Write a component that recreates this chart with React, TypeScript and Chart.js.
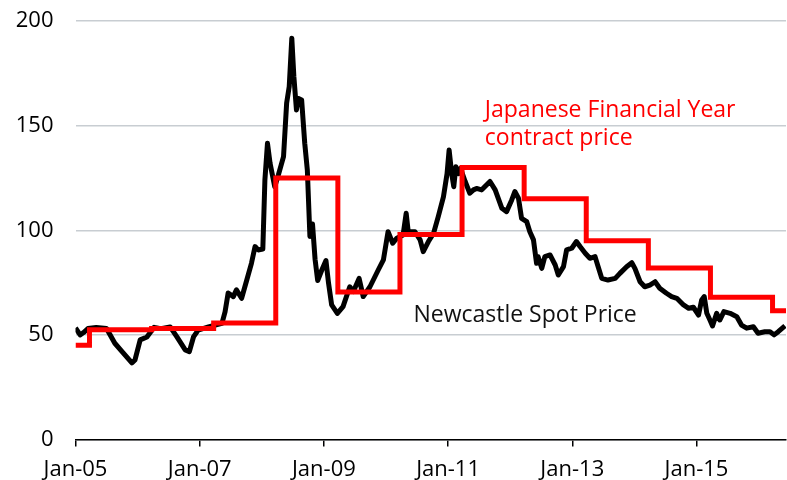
import React, { useEffect, useRef } from "react";
import { Chart, registerables } from "chart.js";

Chart.register(...registerables);

// Months since Jan-2005
const spotMonths = [
  0, 0.9, 1.5, 2.4, 4, 6, 7.6, 9, 10.9, 11.5, 12.5, 13.8, 15.2, 16.5, 18.3, 19.6, 21.2, 22, 22.8, 23.7,
  25.7, 28.3, 28.9, 29.5, 30.5, 31.1, 32.1, 33.1, 34, 34.7, 35.3, 36.2, 36.6, 37.1, 37.6, 38.5, 39.2,
  40.2, 40.8, 41.3, 41.8, 42.2, 42.7, 43.1, 43.7, 44.3, 44.8, 45.3, 45.8, 46.3, 46.8, 47.6, 48.4, 48.9,
  49.5, 50.6, 51.7, 53, 53.7, 54.8, 55.6, 56.9, 58.5, 59.5, 60.4, 61.3, 62.1, 63.3, 63.9, 64.3, 65.6,
  66.6, 67.2, 68.2, 69.2, 70.1, 71.1, 71.8, 72.2, 72.7, 73.1, 73.5, 74, 74.4, 75.3, 76.2, 76.9, 77.5,
  78.5, 80.1, 81.1, 82.4, 83.3, 84.3, 84.9, 85.6, 86.2, 87.2, 87.8, 88.5, 89.1, 89.4, 90.1, 90.7, 91.7,
  92.7, 93.3, 94.3, 94.9, 95.9, 96.8, 97.5, 98.5, 99.4, 100.4, 101, 101.7, 102.9, 104.3, 105.2, 106.5,
  107.5, 108.1, 109.1, 110, 111, 112, 112.9, 114.2, 115.2, 116.2, 117.5, 118.5, 119.4, 120.4, 121,
  121.5, 122, 122.6, 123.1, 123.9, 124.5, 125.3, 126.5, 127.8, 128.7, 129.7, 131, 131.9, 133.2, 134.2,
  135, 135.8, 137.1,
];
const spotPrices = [
  53.3, 50, 51, 53, 53.5, 53, 46, 42, 36.6, 38, 47.6, 49, 53.6, 53, 53.8, 49, 42.8, 42, 49, 52.3,
  53.8, 55.5, 61, 70, 68.3, 71.5, 67.5, 76.2, 84.2, 92.2, 90.6, 91, 124, 141.6, 132, 120.8, 126.4,
  135.2, 160.7, 168.6, 191.8, 173.4, 157.5, 163, 162.3, 141.6, 128.8, 97, 103, 86, 76, 81, 85.5, 74.7,
  64.3, 60.3, 63.5, 73, 70.7, 77, 68.3, 73, 81, 85.8, 99.3, 93.8, 96.2, 97.7, 108.1, 99.3, 99.3,
  95.4, 89.8, 94.6, 98.6, 106.5, 116, 127, 138.4, 127, 120.8, 130.4, 127, 129.6, 123.3, 117.7, 119.3, 120,
  119.3, 123.3, 119.3, 110.5, 108.9, 114.5, 118.5, 115.3, 105.7, 104.1, 99.3, 95.4, 84.2, 87.4, 81.8, 87.4, 88.2,
  83.4, 78.6, 82.6, 90.6, 91.4, 94.6, 92.2, 89, 86.6, 87.4, 82.6, 77, 76.2, 77, 79.4, 82.6,
  84.5, 81.8, 75.4, 73, 73.8, 75.4, 72.3, 69.9, 68.3, 67.5, 64.3, 62.7, 63.2, 59.5, 66.7,
  68.3, 60.3, 57.1, 54.3, 60.3, 57.1, 61.1, 60.3, 58.7, 54.7, 53.2, 53.9, 50.8, 51.5, 51.5,
  50, 51.5, 54.3,
];

// Japanese financial year contract price (each value holds until next change)
const contractMonths = [0, 2.7, 14.7, 26.7, 38.7, 50.7, 62.7, 74.7, 86.7, 98.7, 110.7, 122.7, 134.7, 137.3];
const contractPrices = [45, 52.5, 53, 55.7, 125, 70.5, 98, 130, 115, 95, 82, 68, 61.5, 61.5];

const tickLabels = ["Jan-05", "Jan-07", "Jan-09", "Jan-11", "Jan-13", "Jan-15"];
const tickStepMonths = 24;
const xMax = 137.3;

const contractLabelLines = ["Japanese Financial Year", "contract price"];
const spotLabel = "Newcastle Spot Price";

const FONT = "'Open Sans', 'Noto Sans', sans-serif";

const labelsPlugin = {
  id: "seriesLabels",
  afterDatasetsDraw(chart: any) {
    const { ctx, scales } = chart;
    const xs = scales.x;
    const ys = scales.y;
    ctx.save();
    ctx.font = `23px ${FONT}`;
    ctx.textAlign = "left";
    ctx.textBaseline = "alphabetic";
    ctx.fillStyle = "#ff0000";
    const jx = xs.getPixelForValue(79.1);
    ctx.fillText(contractLabelLines[0], jx, ys.getPixelForValue(154.2));
    ctx.fillText(contractLabelLines[1], jx, ys.getPixelForValue(140.6));
    ctx.fillStyle = "#111111";
    ctx.fillText(spotLabel, xs.getPixelForValue(65.3), ys.getPixelForValue(56.3));
    ctx.restore();
  },
};

export default function App() {
  const ref = useRef<HTMLCanvasElement | null>(null);
  useEffect(() => {
    document.body.style.margin = "0";
    if (!ref.current) return;
    const chart = new Chart(ref.current, {
      type: "line",
      data: {
        datasets: [
          {
            label: "Japanese Financial Year contract price",
            data: contractMonths.map((m, i) => ({ x: m, y: contractPrices[i] })),
            borderColor: "#ff0000",
            borderWidth: 5,
            stepped: true,
            pointRadius: 0,
            fill: false,
          },
          {
            label: "Newcastle Spot Price",
            data: spotMonths.map((m, i) => ({ x: m, y: spotPrices[i] })),
            borderColor: "#000000",
            borderWidth: 5,
            tension: 0,
            pointRadius: 0,
            borderJoinStyle: "round",
            fill: false,
          },
        ],
      },
      options: {
        responsive: false,
        animation: false,
        layout: { padding: { top: 21, right: 1, left: 0, bottom: 0 } },
        plugins: { legend: { display: false }, tooltip: { enabled: false } },
        scales: {
          x: {
            type: "linear",
            min: 0,
            max: xMax,
            afterFit: (s: any) => {
              s.height = 40.5;
              s.paddingLeft = 0;
              s.paddingRight = 0;
            },
            grid: {
              drawOnChartArea: false,
              drawTicks: true,
              tickLength: 7,
              tickColor: "#000000",
              lineWidth: 1.5,
            },
            border: { display: true, color: "#000000", width: 1.5 },
            ticks: {
              stepSize: tickStepMonths,
              includeBounds: false,
              autoSkip: false,
              maxRotation: 0,
              padding: 10,
              color: "#000000",
              font: { family: FONT, size: 22 },
              callback: (v: any) => tickLabels[Math.round(Number(v) / tickStepMonths)] ?? "",
            },
          },
          y: {
            min: 0,
            max: 200,
            afterFit: (s: any) => {
              s.width = 75.5;
              s.paddingTop = 0;
              s.paddingBottom = 0;
            },
            grid: { color: "#c8cdd2", lineWidth: 1.5, drawTicks: false },
            border: { display: false },
            ticks: {
              stepSize: 50,
              padding: 22,
              color: "#000000",
              font: { family: FONT, size: 22 },
            },
          },
        },
      },
      plugins: [labelsPlugin],
    });
    return () => chart.destroy();
  }, []);
  return <canvas ref={ref} width={787} height={480} style={{ display: "block" }} />;
}
